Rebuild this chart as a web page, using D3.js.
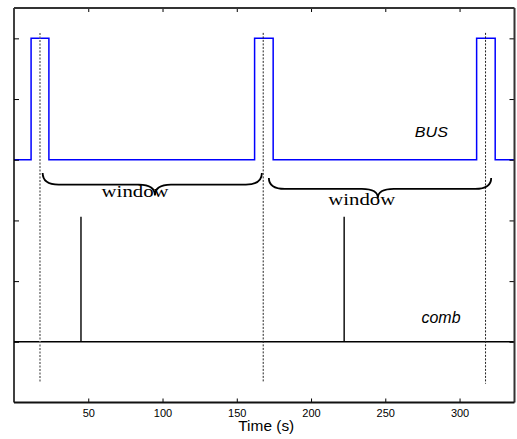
<!DOCTYPE html>
<html>
<head>
<meta charset="utf-8">
<script src="https://cdn.jsdelivr.net/npm/d3@7"></script>
<style>
  html, body { margin: 0; padding: 0; background: #fff; }
  svg { display: block; }
  .tick-label { font-family: Arial, "Liberation Sans", sans-serif; font-size: 11px; }
</style>
</head>
<body>
<svg id="chart"></svg>
<script>
const width  = 517,
      height = 439,
      margin = {top: 8, right: 2, bottom: 36, left: 14};

// BUS signal: step series (time, level)
const busTimes  = [0, 11.5, 11.5, 23.5, 23.5, 162, 162, 174.5, 174.5, 311.5, 311.5, 324, 324, 337];
const busValues = [3, 3,    5,    5,    3,    3,   5,   5,     3,     3,     5,     5,   3,   3];

// comb baseline and spikes
const combBase   = 0;
const combSpikes = [45.1, 222.3];
const combHeight = 2.06;

// dotted markers
const markerTimes = [17.5, 167.8, 317.5];
const markerTop   = 5.09;
const markerBot   = [-0.66, -0.66, -0.69];

// window braces: start, end, cusp, end-y, line-y, tip-y
const braceStart = [19.3, 171.6];
const braceEnd   = [166.9, 321.3];
const braceCusp  = [94.9, 245];
const braceEndY  = [2.78, 2.70];
const braceLineY = [2.59, 2.52];
const braceTipY  = [2.41, 2.37];

// labels
const windowX = [59, 211.6];
const windowY = [2.39, 2.26];
const xTicks  = [50, 100, 150, 200, 250, 300];
const yTicks  = [0, 1, 2, 3, 4, 5];

const svg = d3.select("#chart").attr("width", width).attr("height", height);

const x = d3.scaleLinear().domain([0, 337]).range([margin.left, width - margin.right - 0.5]);
const y = d3.scaleLinear().domain([-1, 5.5]).range([height - margin.bottom - 0.5, margin.top]);

// BUS line
const busData = busTimes.map((t, i) => [t, busValues[i]]);
svg.append("path")
  .datum(busData)
  .attr("fill", "none")
  .attr("stroke", "#0000ff")
  .attr("stroke-width", 1.5)
  .attr("d", d3.line().x(d => x(d[0])).y(d => y(d[1])));

// comb baseline + spikes
svg.append("line")
  .attr("x1", x(0)).attr("x2", x(337))
  .attr("y1", y(combBase)).attr("y2", y(combBase))
  .attr("stroke", "#000").attr("stroke-width", 1.4);

svg.selectAll(".spike")
  .data(combSpikes)
  .join("line")
  .attr("class", "spike")
  .attr("x1", d => x(d)).attr("x2", d => x(d))
  .attr("y1", y(combBase)).attr("y2", y(combHeight))
  .attr("stroke", "#000").attr("stroke-width", 1.4);

// dotted markers
svg.selectAll(".marker")
  .data(markerTimes)
  .join("line")
  .attr("class", "marker")
  .attr("x1", d => x(d)).attr("x2", d => x(d))
  .attr("y1", y(markerTop)).attr("y2", (d, i) => y(markerBot[i]))
  .attr("stroke", (d, i) => i === 0 ? "#777" : "#222")
  .attr("stroke-width", (d, i) => i === 0 ? 1.5 : 1)
  .attr("stroke-dasharray", "2,1.5");

// braces
function bracePath(i) {
  const x1 = x(braceStart[i]), x2 = x(braceEnd[i]), c = x(braceCusp[i]),
        ye = y(braceEndY[i]), yl = y(braceLineY[i]), yt = y(braceTipY[i]),
        r = 16;
  return `M${x1},${ye} Q${x1},${yl} ${x1 + r},${yl} L${c - r},${yl} ` +
         `Q${c},${yl} ${c},${yt} Q${c},${yl} ${c + r},${yl} ` +
         `L${x2 - r},${yl} Q${x2},${yl} ${x2},${ye}`;
}
svg.selectAll(".brace")
  .data(braceStart)
  .join("path")
  .attr("class", "brace")
  .attr("fill", "none")
  .attr("stroke", "#000")
  .attr("stroke-width", 1.8)
  .attr("d", (d, i) => bracePath(i));

svg.selectAll(".window-label")
  .data(windowX)
  .join("text")
  .attr("class", "window-label")
  .attr("x", d => x(d))
  .attr("y", (d, i) => y(windowY[i]))
  .attr("font-family", "'Liberation Serif', 'Times New Roman', serif")
  .attr("font-size", 17)
  .attr("textLength", 67)
  .attr("lengthAdjust", "spacingAndGlyphs")
  .text("window");

// signal names
svg.append("text")
  .attr("x", x(269.9)).attr("y", y(3.37))
  .attr("font-family", "Arial, 'Liberation Sans', sans-serif")
  .attr("font-style", "italic")
  .attr("font-size", 15.5)
  .attr("textLength", 33)
  .attr("lengthAdjust", "spacingAndGlyphs")
  .text("BUS");

svg.append("text")
  .attr("x", x(274.4)).attr("y", y(0.31))
  .attr("font-family", "Arial, 'Liberation Sans', sans-serif")
  .attr("font-style", "italic")
  .attr("font-size", 16)
  .attr("textLength", 39)
  .attr("lengthAdjust", "spacingAndGlyphs")
  .text("comb");

// axes (ticks inward, box)
const x0 = x.range()[0], x1 = x.range()[1], y0 = y.range()[0], y1 = y.range()[1];

const xAxis = svg.append("g")
  .attr("transform", `translate(0,${y0})`)
  .call(d3.axisBottom(x).tickValues(xTicks).tickSizeInner(-4).tickSizeOuter(0).tickPadding(7));
xAxis.select(".domain").remove();
xAxis.selectAll("text").attr("class", "tick-label").attr("font-size", null).attr("font-family", null);
xAxis.selectAll("line").attr("stroke", "#000");

const xTop = svg.append("g")
  .attr("transform", `translate(0,${y1})`)
  .call(d3.axisTop(x).tickValues(xTicks).tickSizeInner(-4).tickSizeOuter(0).tickFormat(""));
xTop.select(".domain").remove();

const yLeft = svg.append("g")
  .attr("transform", `translate(${x0},0)`)
  .call(d3.axisLeft(y).tickValues(yTicks).tickSizeInner(-5).tickSizeOuter(0).tickFormat(""));
yLeft.select(".domain").remove();

const yRight = svg.append("g")
  .attr("transform", `translate(${x1},0)`)
  .call(d3.axisRight(y).tickValues(yTicks).tickSizeInner(-5).tickSizeOuter(0).tickFormat(""));
yRight.select(".domain").remove();

// frame
svg.append("line").attr("x1", x0).attr("x2", x0).attr("y1", y1).attr("y2", y0)
  .attr("stroke", "#000").attr("stroke-width", 1.5);
svg.append("line").attr("x1", x0).attr("x2", x1).attr("y1", y1).attr("y2", y1)
  .attr("stroke", "#333").attr("stroke-width", 2);
svg.append("line").attr("x1", x1).attr("x2", x1).attr("y1", y1).attr("y2", y0)
  .attr("stroke", "#333").attr("stroke-width", 2);
svg.append("line").attr("x1", x0).attr("x2", x1).attr("y1", y0).attr("y2", y0)
  .attr("stroke", "#111").attr("stroke-width", 2);

// x label
svg.append("text")
  .attr("x", (x0 + x1) / 2 + 2)
  .attr("y", 431)
  .attr("text-anchor", "middle")
  .attr("font-family", "Arial, 'Liberation Sans', sans-serif")
  .attr("font-size", 15)
  .attr("textLength", 56)
  .attr("lengthAdjust", "spacingAndGlyphs")
  .text("Time (s)");
</script>
</body>
</html>
